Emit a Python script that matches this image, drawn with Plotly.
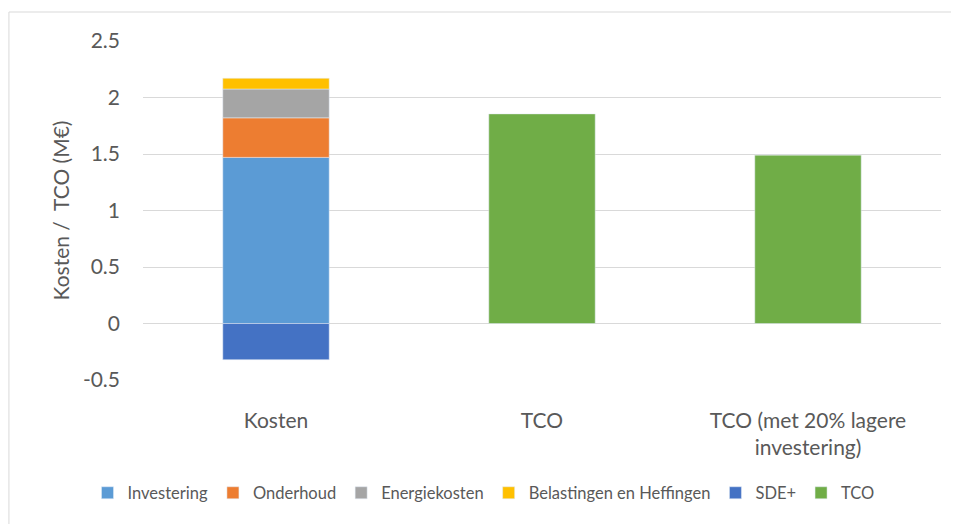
import plotly.graph_objects as go

categories = ["Kosten", "TCO", "TCO (met 20% lagere<br>investering)"]

# cost components (M€), only on the "Kosten" bar
investering = [1.47]
onderhoud = [0.35]
energiekosten = [0.255]
belastingen = [0.095]
sde_plus = [-0.32]

# TCO bars
tco_values = [1.855, 1.49]

# y axis ticks (hyphen instead of unicode minus, like the original)
y_tickvals = [-0.5, 0, 0.5, 1, 1.5, 2, 2.5]
y_ticktext = ["-0.5", "0", "0.5", "1", "1.5", "2", "2.5"]

text_color = "#595959"
grid_color = "#D9D9D9"

fig = go.Figure()

stack = [
    ("Investering", investering, "#5B9BD5"),
    ("Onderhoud", onderhoud, "#ED7D31"),
    ("Energiekosten", energiekosten, "#A5A5A5"),
    ("Belastingen en Heffingen", belastingen, "#FFC000"),
    ("SDE+", sde_plus, "#4472C4"),
]
for name, vals, color in stack:
    fig.add_trace(go.Bar(x=categories[:1], y=vals, name=name,
                         marker_color=color, width=0.4))

fig.add_trace(go.Bar(x=categories[1:], y=tco_values, name="TCO",
                     marker_color="#70AD47", width=0.4))

# page body has an 8px margin, so the figure is a bit smaller than the window
fig.update_layout(
    barmode="relative",
    width=951, height=516,
    margin=dict(l=135, r=18, t=33, b=144),
    paper_bgcolor="white",
    plot_bgcolor="white",
    font=dict(family="Lato, Open Sans, sans-serif", size=21, color=text_color),
    showlegend=True,
    legend=dict(orientation="h", xref="container", yref="container",
                x=0.5, xanchor="center", y=0.06, yanchor="middle",
                font=dict(size=16.5, color=text_color), itemwidth=30,
                traceorder="normal"),
    shapes=[dict(type="rect", xref="paper", yref="paper",
                 x0=-0.168, x1=1.2, y0=-0.8, y1=1.0855,
                 line=dict(color="#D9D9D9", width=1), layer="below")],
)

fig.update_xaxes(categoryorder="array", categoryarray=categories,
                 showgrid=False, showline=False, ticks="",
                 ticklabelstandoff=26,
                 tickfont=dict(size=21, color=text_color))
fig.update_yaxes(range=[-0.5, 2.5], tickvals=y_tickvals, ticktext=y_ticktext,
                 showgrid=True, gridcolor=grid_color, gridwidth=1.3,
                 zeroline=False, showline=False, ticks="",
                 ticklabelstandoff=22,
                 tickfont=dict(size=21, color=text_color),
                 title=dict(text="Kosten /  TCO (M€)", standoff=7,
                            font=dict(size=21, color=text_color)))

fig.write_html("out.html")
